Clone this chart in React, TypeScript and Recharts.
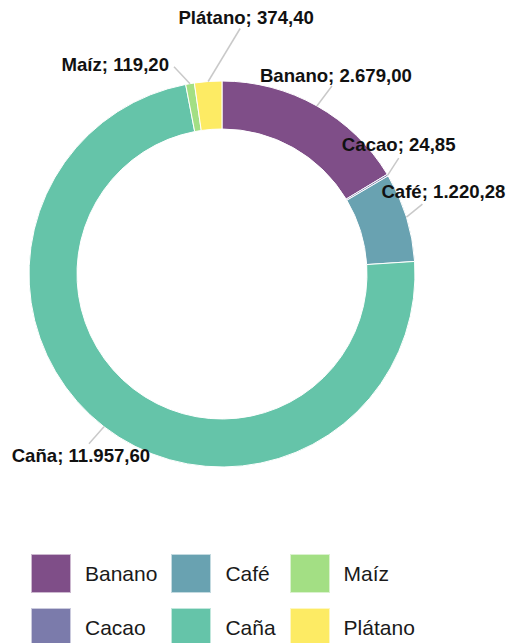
import React from 'react';
import { PieChart, Pie, Cell, Legend } from 'recharts';

const CROPS = ['Banano', 'Cacao', 'Café', 'Caña', 'Maíz', 'Plátano'];
const VALUES = [2679.0, 24.85, 1220.28, 11957.6, 119.2, 374.4];
const COLORS = ['#7f4e88', '#7b7bab', '#69a2b1', '#65c4a9', '#a3df84', '#fdeb64'];

const chartData = CROPS.map((name, i) => ({ name, value: VALUES[i] }));

// leader line end (relative to slice outer midpoint) and text placement (relative to line end)
const LABEL_LAYOUT: Record<string, { lx: number; ly: number; tx: number; ty: number; anchor: 'start' | 'middle' | 'end' }> = {
  'Banano': { lx: 15, ly: -20, tx: 4, ty: -4, anchor: 'middle' },
  'Cacao': { lx: 11, ly: -17, tx: 0, ty: -7, anchor: 'middle' },
  'Café': { lx: 16, ly: -13, tx: 21, ty: -6, anchor: 'middle' },
  'Caña': { lx: -15, ly: 17, tx: -8, ty: 18, anchor: 'middle' },
  'Maíz': { lx: -16, ly: -17, tx: -5, ty: 4, anchor: 'end' },
  'Plátano': { lx: 32, ly: -53, tx: 6, ty: -4, anchor: 'middle' },
};

const fmt = (v: number) => {
  const [int, dec] = v.toFixed(2).split('.');
  return int.replace(/\B(?=(\d{3})+(?!\d))/g, '.') + ',' + dec;
};

const RAD = Math.PI / 180;

const renderLabel = (props: any) => {
  const { cx, cy, midAngle, outerRadius, name, value } = props;
  const sx = cx + outerRadius * Math.cos(-midAngle * RAD);
  const sy = cy + outerRadius * Math.sin(-midAngle * RAD);
  const l = LABEL_LAYOUT[name];
  const ex = sx + l.lx;
  const ey = sy + l.ly;
  return (
    <g>
      <line x1={sx} y1={sy} x2={ex} y2={ey} stroke="#c9c9c9" strokeWidth={1.5} />
      <text x={ex + l.tx} y={ey + l.ty} textAnchor={l.anchor} fill="#111" fontSize={18.6} fontWeight="bold"
        fontFamily="'Liberation Sans', Arial, sans-serif">
        {`${name}; ${fmt(value)}`}
      </text>
    </g>
  );
};

const renderLegend = (props: any) => {
  const { payload } = props;
  return (
    <div style={{ display: 'grid', gridTemplateRows: '39px 39px', gridAutoFlow: 'column', gridAutoColumns: 'max-content', columnGap: 14, rowGap: 15 }}>
      {payload.map((entry: any) => (
        <div key={entry.value} style={{ display: 'flex', alignItems: 'center', gap: 14 }}>
          <div style={{ width: 38, height: 37, background: entry.color, border: '1px solid rgba(255,255,255,0.6)' }} />
          <span style={{ fontSize: 21, color: '#1a1a1a', fontFamily: "'Liberation Sans', Arial, sans-serif" }}>{entry.value}</span>
        </div>
      ))}
    </div>
  );
};

export default function App() {
  return (
    <div>
      <style>{'body{margin:0}'}</style>
      <PieChart width={510} height={643} margin={{ top: 0, right: 0, bottom: 0, left: 0 }}>
        <Pie
          data={chartData}
          dataKey="value"
          nameKey="name"
          cx={222}
          cy={274}
          innerRadius={145}
          outerRadius={193}
          startAngle={90}
          endAngle={-270}
          stroke="#ffffff"
          strokeWidth={1}
          label={renderLabel}
          labelLine={false}
          isAnimationActive={false}
        >
          {chartData.map((entry, i) => (
            <Cell key={entry.name} fill={COLORS[i]} />
          ))}
        </Pie>
        <Legend content={renderLegend} wrapperStyle={{ top: 554, left: 31, width: 'auto' }} />
      </PieChart>
    </div>
  );
}
